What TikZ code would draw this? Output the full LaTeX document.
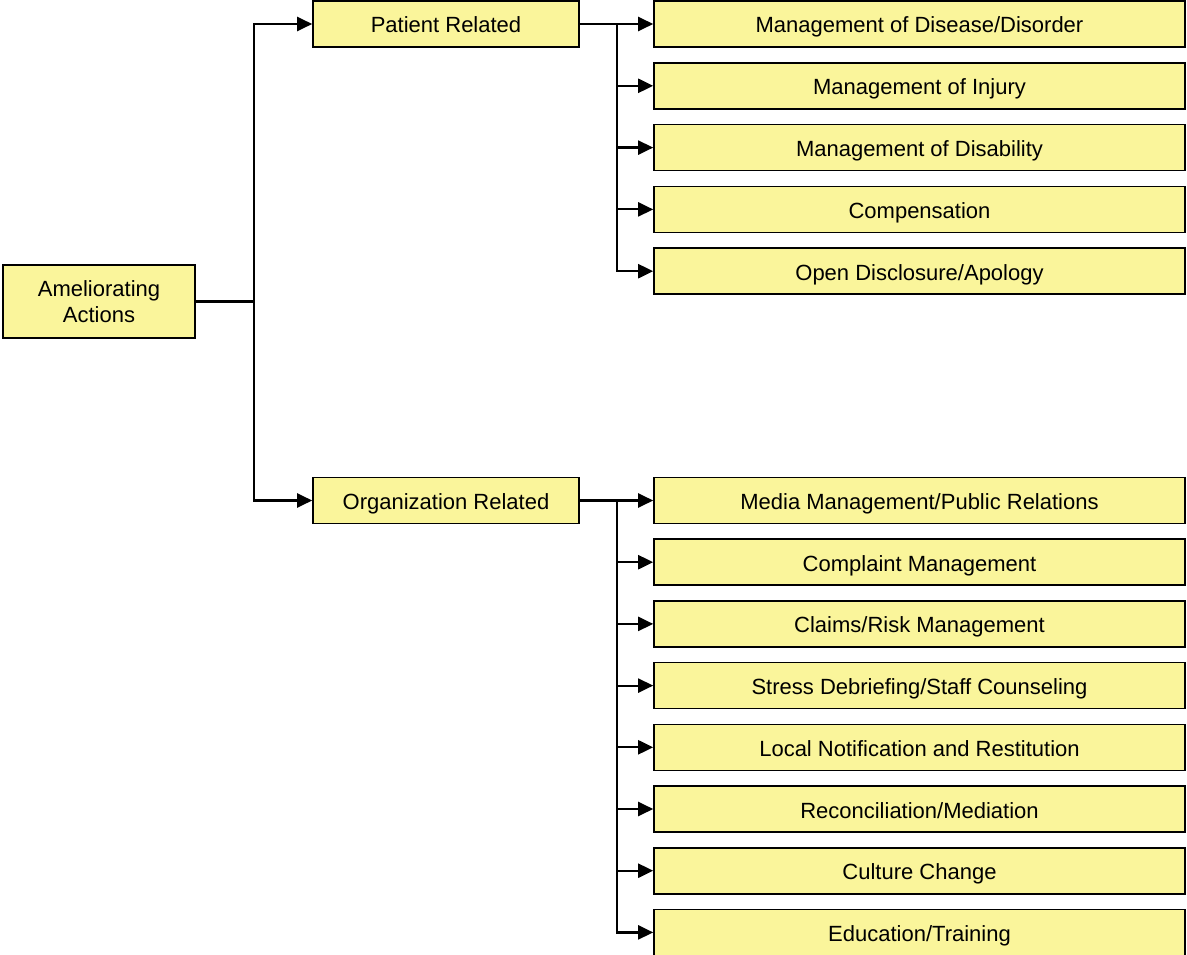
\documentclass[tikz,border=0pt]{standalone}
\usepackage{fontspec}
\setmainfont{Liberation Sans}
\usetikzlibrary{arrows.meta}
\definecolor{boxfill}{HTML}{FAF59B}
\begin{document}
\begin{tikzpicture}[x=1pt,y=-1pt,
  box/.style={draw=black,line width=1.6pt,fill=boxfill,inner sep=0pt,font=\fontsize{22}{26}\selectfont,align=center},
  small/.style={box,minimum width=266pt,minimum height=46pt,text height=18pt,text depth=0pt},
  leaf/.style={box,minimum width=531pt,minimum height=46pt,text height=18pt,text depth=0pt},
  conn/.style={line width=2.2pt},
  arr/.style={conn,-{Triangle[length=15pt,width=14pt]}}]
\useasboundingbox (0,0) rectangle (1187,955);
\node[box,minimum width=192pt,minimum height=73pt,text depth=0pt] (root) at (99,301.5) {Ameliorating\\Actions};
\node[small] (pat) at (446,24) {Patient Related};
\node[small] (org) at (446,500.5) {Organization Related};
\foreach \t [count=\i] in {Management of Disease/Disorder,Management of Injury,Management of Disability,Compensation,Open Disclosure/Apology}
  \node[leaf] (p\i) at (919.5,{24+61.8*(\i-1)}) {\t};
\foreach \t [count=\i] in {Media Management/Public Relations,Complaint Management,Claims/Risk Management,Stress Debriefing/Staff Counseling,Local Notification and Restitution,Reconciliation/Mediation,Culture Change,Education/Training}
  \node[leaf] (o\i) at (919.5,{500.5+61.7*(\i-1)}) {\t};
\coordinate (j) at (254,301.5);
\draw[conn] (root.east) -- (j);
\draw[arr] (j) |- (pat.west);
\draw[arr] (j) |- (org.west);
\coordinate (pj) at (617,24);
\coordinate (oj) at (617,500.5);
\draw[arr] (pat.east) -- (p1.west);
\foreach \i in {2,...,5} \draw[arr] (pj) |- (p\i.west);
\draw[arr] (org.east) -- (o1.west);
\foreach \i in {2,...,8} \draw[arr] (oj) |- (o\i.west);
\end{tikzpicture}
\end{document}
